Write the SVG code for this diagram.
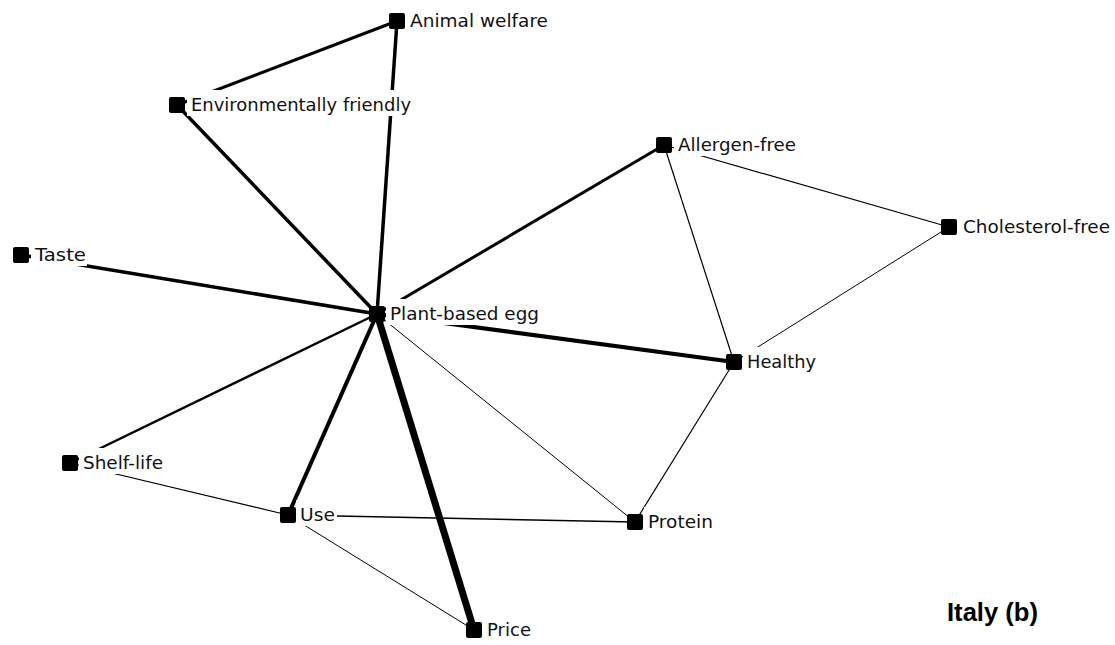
<svg xmlns="http://www.w3.org/2000/svg" width="1115" height="645" viewBox="0 0 1115 645">
  <style>
    .e { stroke: #000; fill: none; stroke-linecap: butt; }
    .sq { fill: #000; }
    .bg { fill: #fff; }
    .lbl { font-family: "DejaVu Sans", Verdana, sans-serif; font-size: 18px; fill: #111; }
    .title { font-family: "Liberation Sans", Arial, sans-serif; font-size: 25px; font-weight: bold; fill: #000; }
  </style>
  <rect width="1115" height="645" fill="#fff"/>

  <!-- connectors; stroke width encodes tie strength -->
  <g id="edges">
    <line class="e" x1="397" y1="21" x2="177" y2="105" stroke-width="3"/>
    <line class="e" x1="397" y1="21" x2="377" y2="314" stroke-width="3.5"/>
    <line class="e" x1="177" y1="105" x2="377" y2="314" stroke-width="3.5"/>
    <line class="e" x1="21" y1="255" x2="377" y2="314" stroke-width="3.5"/>
    <line class="e" x1="664" y1="145" x2="377" y2="314" stroke-width="3"/>
    <line class="e" x1="734" y1="362" x2="377" y2="314" stroke-width="4"/>
    <line class="e" x1="70" y1="463" x2="377" y2="314" stroke-width="2.5"/>
    <line class="e" x1="288" y1="515" x2="377" y2="314" stroke-width="4"/>
    <line class="e" x1="474" y1="630" x2="377" y2="314" stroke-width="7"/>
    <line class="e" x1="635" y1="522" x2="377" y2="314" stroke-width="1"/>
    <line class="e" x1="664" y1="145" x2="734" y2="362" stroke-width="1.2"/>
    <line class="e" x1="664" y1="145" x2="949" y2="227" stroke-width="1.2"/>
    <line class="e" x1="949" y1="227" x2="734" y2="362" stroke-width="1"/>
    <line class="e" x1="734" y1="362" x2="635" y2="522" stroke-width="1.2"/>
    <line class="e" x1="288" y1="515" x2="635" y2="522" stroke-width="1.5"/>
    <line class="e" x1="288" y1="515" x2="474" y2="630" stroke-width="1"/>
    <line class="e" x1="70" y1="463" x2="288" y2="515" stroke-width="1.2"/>
  </g>

  <!-- nodes: white label plate, label, square marker -->
  <g id="n-animal-welfare">
    <rect class="bg" x="406" y="6" width="144" height="26"/>
    <text class="lbl" x="410" y="27" textLength="138" lengthAdjust="spacingAndGlyphs">Animal welfare</text>
    <rect class="sq" x="389" y="13" width="16" height="16" rx="2"/>
  </g>
  <g id="n-environmentally-friendly">
    <rect class="bg" x="187" y="90" width="226" height="26"/>
    <text class="lbl" x="191" y="111" textLength="220" lengthAdjust="spacingAndGlyphs">Environmentally friendly</text>
    <rect class="sq" x="169" y="97" width="16" height="16" rx="2"/>
  </g>
  <g id="n-taste">
    <rect class="bg" x="31" y="240" width="56" height="26"/>
    <text class="lbl" x="35" y="261" textLength="51" lengthAdjust="spacingAndGlyphs">Taste</text>
    <rect class="sq" x="13" y="247" width="16" height="16" rx="2"/>
  </g>
  <g id="n-plant-based-egg">
    <rect class="bg" x="386" y="299" width="155" height="26"/>
    <text class="lbl" x="390" y="320" textLength="149" lengthAdjust="spacingAndGlyphs">Plant-based egg</text>
    <rect class="sq" x="369" y="306" width="16" height="16" rx="2"/>
  </g>
  <g id="n-allergen-free">
    <rect class="bg" x="674" y="130" width="124" height="26"/>
    <text class="lbl" x="678" y="151" textLength="118" lengthAdjust="spacingAndGlyphs">Allergen-free</text>
    <rect class="sq" x="656" y="137" width="16" height="16" rx="2"/>
  </g>
  <g id="n-cholesterol-free">
    <rect class="bg" x="959" y="212" width="154" height="26"/>
    <text class="lbl" x="963" y="233" textLength="147" lengthAdjust="spacingAndGlyphs">Cholesterol-free</text>
    <rect class="sq" x="941" y="219" width="16" height="16" rx="2"/>
  </g>
  <g id="n-healthy">
    <rect class="bg" x="743" y="347" width="75" height="26"/>
    <text class="lbl" x="747" y="368" textLength="69" lengthAdjust="spacingAndGlyphs">Healthy</text>
    <rect class="sq" x="726" y="354" width="16" height="16" rx="2"/>
  </g>
  <g id="n-shelf-life">
    <rect class="bg" x="79" y="448" width="86" height="26"/>
    <text class="lbl" x="83" y="469" textLength="80" lengthAdjust="spacingAndGlyphs">Shelf-life</text>
    <rect class="sq" x="62" y="455" width="16" height="16" rx="2"/>
  </g>
  <g id="n-use">
    <rect class="bg" x="296" y="500" width="41" height="26"/>
    <text class="lbl" x="300" y="521" textLength="35" lengthAdjust="spacingAndGlyphs">Use</text>
    <rect class="sq" x="280" y="507" width="16" height="16" rx="2"/>
  </g>
  <g id="n-protein">
    <rect class="bg" x="644" y="507" width="71" height="26"/>
    <text class="lbl" x="648" y="528" textLength="65" lengthAdjust="spacingAndGlyphs">Protein</text>
    <rect class="sq" x="627" y="514" width="16" height="16" rx="2"/>
  </g>
  <g id="n-price">
    <rect class="bg" x="483" y="615" width="50" height="26"/>
    <text class="lbl" x="487" y="636" textLength="44" lengthAdjust="spacingAndGlyphs">Price</text>
    <rect class="sq" x="466" y="622" width="16" height="16" rx="2"/>
  </g>

  <text class="title" x="947" y="621" textLength="91" lengthAdjust="spacingAndGlyphs">Italy (b)</text>
</svg>
